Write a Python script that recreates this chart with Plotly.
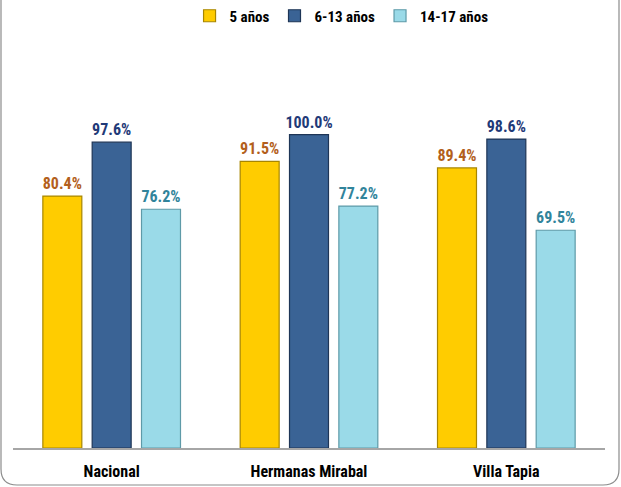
import plotly.graph_objects as go

categories = ["Nacional", "Hermanas Mirabal", "Villa Tapia"]
series_names = ["5 años", "6-13 años", "14-17 años"]
v5 = [80.4, 91.5, 89.4]
v613 = [97.6, 100.0, 98.6]
v1417 = [76.2, 77.2, 69.5]

colors = ["#FFCC00", "#3A6395", "#9ADAE8"]
edge = ["#A88600", "#1E3556", "#5E9AA8"]
label_colors = ["#B35F1C", "#1F3A78", "#31849B"]

FONT = "Liberation Sans Narrow, Arial Narrow, Roboto Condensed, Roboto, sans-serif"

fig = go.Figure()
for name, vals, c, e, lc in zip(series_names, [v5, v613, v1417], colors, edge, label_colors):
    fig.add_trace(go.Bar(
        name=name, x=categories, y=vals,
        marker=dict(color=c, line=dict(color=e, width=1.2)),
        text=[f"{v:.1f}%" for v in vals],
        textposition="outside",
        constraintext="none",
        textfont=dict(color=lc, size=16, family=FONT, weight="bold"),
        cliponaxis=False,
    ))

W, H = 621, 487
L, R, T, B = 13, 16, 72, 39
fig.update_layout(
    width=W, height=H,
    paper_bgcolor="white", plot_bgcolor="white",
    barmode="group", bargap=0.25, bargroupgap=0.21,
    margin=dict(l=L, r=R, t=T, b=B, autoexpand=False),
    font=dict(family=FONT, size=14, color="black"),
    showlegend=True,
    legend=dict(orientation="h", x=0.55, xanchor="center", xref="container",
                y=1 - 16 / H, yanchor="middle", yref="container",
                font=dict(size=15, family=FONT, color="black", weight="bold"),
                itemwidth=30, traceorder="normal"),
    xaxis=dict(showline=True, linecolor="#A6A6A6", linewidth=1.5, ticks="",
               automargin=False, ticklabelstandoff=8,
               tickfont=dict(size=16, family=FONT, color="black", weight="bold"),
               showgrid=False),
    yaxis=dict(range=[0, 120], visible=False, showgrid=False, automargin=False),
)

# rounded frame around the chart
pw = W - L - R
ph = H - T - B
def px2paper_x(px):
    return (px - L) / pw
def px2paper_y(py):
    return (H - B - py) / ph
x0, x1 = px2paper_x(1), px2paper_x(619)
y0, ytop = px2paper_y(485), px2paper_y(-20)
rx = 16 / pw
ry = 16 / ph
path = (f"M {x0},{ytop} L {x0},{y0+ry} Q {x0},{y0} {x0+rx},{y0} "
        f"L {x1-rx},{y0} Q {x1},{y0} {x1},{y0+ry} L {x1},{ytop}")
fig.add_shape(type="path", path=path, xref="paper", yref="paper",
              line=dict(color="#8C8C8C", width=1.2))

fig.write_html("out.html", config={"displayModeBar": False},
               post_script="document.body.style.margin='0';document.body.style.overflow='hidden';")
